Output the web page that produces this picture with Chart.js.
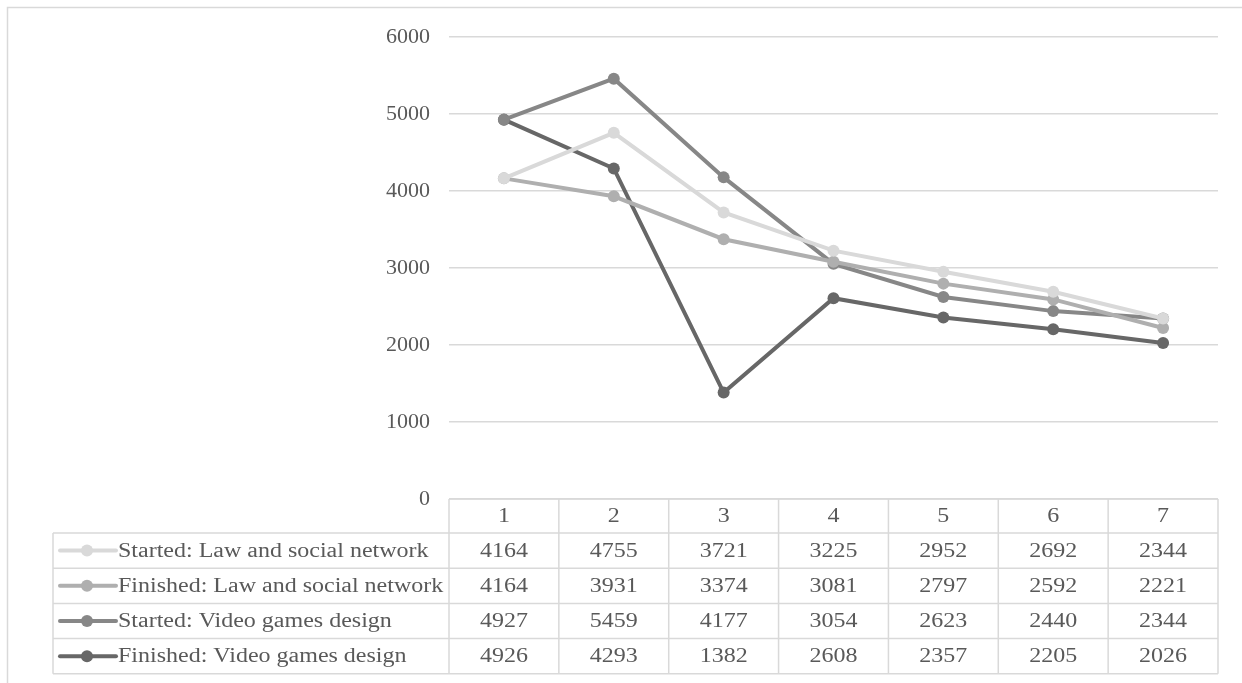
<!DOCTYPE html>
<html>
<head>
<meta charset="utf-8">
<title>Started and finished</title>
<script src="https://cdn.jsdelivr.net/npm/chart.js@4/dist/chart.umd.min.js"></script>
<style>
  html, body { margin: 0; padding: 0; background: #fff; }
  #wrap { width: 1242px; height: 683px; }
</style>
</head>
<body>
<div id="wrap"><canvas id="chart" width="1242" height="683"></canvas></div>
<script>
// values
const CATEGORIES = ['1', '2', '3', '4', '5', '6', '7'];
const STARTED_LAW = [4164, 4755, 3721, 3225, 2952, 2692, 2344];
const FINISHED_LAW = [4164, 3931, 3374, 3081, 2797, 2592, 2221];
const STARTED_GAMES = [4927, 5459, 4177, 3054, 2623, 2440, 2344];
const FINISHED_GAMES = [4926, 4293, 1382, 2608, 2357, 2205, 2026];
const Y_TICKS = [0, 1000, 2000, 3000, 4000, 5000, 6000];

const SERIES = [
  { label: 'Started: Law and social network', data: STARTED_LAW, color: '#d9d9d9' },
  { label: 'Finished: Law and social network', data: FINISHED_LAW, color: '#afafaf' },
  { label: 'Started: Video games design', data: STARTED_GAMES, color: '#878787' },
  { label: 'Finished: Video games design', data: FINISHED_GAMES, color: '#676767' },
];

const FONT = '"Liberation Serif", "Times New Roman", serif';
const TEXT_COLOR = '#595959';
const LINE_COLOR = '#d9d9d9';
const HEADER_H = 34;
const ROW_H = 35.2;
const TABLE_LEFT = 53;
const TEXT_STRETCH = 1.2; // source text is drawn wider than plain Times

// frame around the chart (only top and left edges fall inside the picture)
const framePlugin = {
  id: 'frame',
  beforeDraw(chart) {
    const ctx = chart.ctx;
    ctx.save();
    ctx.strokeStyle = LINE_COLOR;
    ctx.lineWidth = 1.5;
    ctx.beginPath();
    ctx.moveTo(7.5, chart.height);
    ctx.lineTo(7.5, 7.5);
    ctx.lineTo(chart.width, 7.5);
    ctx.stroke();
    ctx.restore();
  },
};

function wideText(ctx, text, x, y) {
  ctx.save();
  ctx.translate(x, y);
  ctx.scale(TEXT_STRETCH, 1);
  ctx.fillText(text, 0, 0);
  ctx.restore();
}

// Excel-style data table with legend keys under the plot
const dataTablePlugin = {
  id: 'dataTable',
  afterDraw(chart) {
    const ctx = chart.ctx;
    const area = chart.chartArea;
    const x = chart.scales.x;
    const colW = (area.right - area.left) / CATEGORIES.length;
    const top = area.bottom;
    const rowsTop = top + HEADER_H;
    const bottom = rowsTop + ROW_H * SERIES.length;

    ctx.save();
    ctx.strokeStyle = LINE_COLOR;
    ctx.lineWidth = 1.5;
    ctx.beginPath();
    ctx.moveTo(area.left, top);
    ctx.lineTo(area.right, top);
    for (let r = 0; r <= SERIES.length; r++) {
      const y = rowsTop + r * ROW_H;
      ctx.moveTo(TABLE_LEFT, y);
      ctx.lineTo(area.right, y);
    }
    for (let c = 0; c <= CATEGORIES.length; c++) {
      const xx = area.left + c * colW;
      ctx.moveTo(xx, top);
      ctx.lineTo(xx, bottom);
    }
    ctx.moveTo(TABLE_LEFT, rowsTop);
    ctx.lineTo(TABLE_LEFT, bottom);
    ctx.stroke();

    ctx.fillStyle = TEXT_COLOR;
    ctx.font = '20px ' + FONT;
    ctx.textAlign = 'center';
    ctx.textBaseline = 'middle';
    CATEGORIES.forEach((cat, i) => {
      wideText(ctx, cat, x.getPixelForValue(i), top + HEADER_H / 2 + 1);
    });

    SERIES.forEach((s, r) => {
      const cy = rowsTop + r * ROW_H + ROW_H / 2 + 1;
      // legend key
      ctx.strokeStyle = s.color;
      ctx.lineWidth = 4;
      ctx.lineCap = 'round';
      ctx.beginPath();
      ctx.moveTo(60, cy - 1);
      ctx.lineTo(116, cy - 1);
      ctx.stroke();
      ctx.fillStyle = s.color;
      ctx.beginPath();
      ctx.arc(87, cy - 1, 6, 0, Math.PI * 2);
      ctx.fill();
      // label
      ctx.fillStyle = TEXT_COLOR;
      ctx.textAlign = 'left';
      wideText(ctx, s.label, 118, cy);
      // values
      ctx.textAlign = 'center';
      s.data.forEach((v, i) => {
        wideText(ctx, String(v), x.getPixelForValue(i), cy);
      });
    });
    ctx.restore();
  },
};

new Chart(document.getElementById('chart'), {
  type: 'line',
  data: {
    labels: CATEGORIES,
    datasets: SERIES.map((s) => ({
      label: s.label,
      data: s.data,
      borderColor: s.color,
      backgroundColor: s.color,
      borderWidth: 4,
      pointRadius: 6,
      pointBorderWidth: 0,
      pointBackgroundColor: s.color,
      tension: 0,
    })),
  },
  options: {
    responsive: false,
    animation: false,
    devicePixelRatio: 1,
    layout: { padding: { left: 0, right: 24, top: 37, bottom: 184 } },
    plugins: {
      legend: { display: false },
      tooltip: { enabled: false },
    },
    scales: {
      x: {
        display: false,
        offset: true,
      },
      y: {
        min: 0,
        max: 6000,
        afterFit: (s) => { s.width = 449; },
        afterBuildTicks: (s) => { s.ticks = Y_TICKS.map((v) => ({ value: v })); },
        border: { display: false },
        grid: { color: LINE_COLOR, lineWidth: 1.5, drawTicks: false },
        ticks: {
          padding: 19,
          color: TEXT_COLOR,
          font: { family: FONT, size: 22 },
          callback: (v) => String(v),
        },
      },
    },
  },
  plugins: [framePlugin, dataTablePlugin],
});
</script>
</body>
</html>
